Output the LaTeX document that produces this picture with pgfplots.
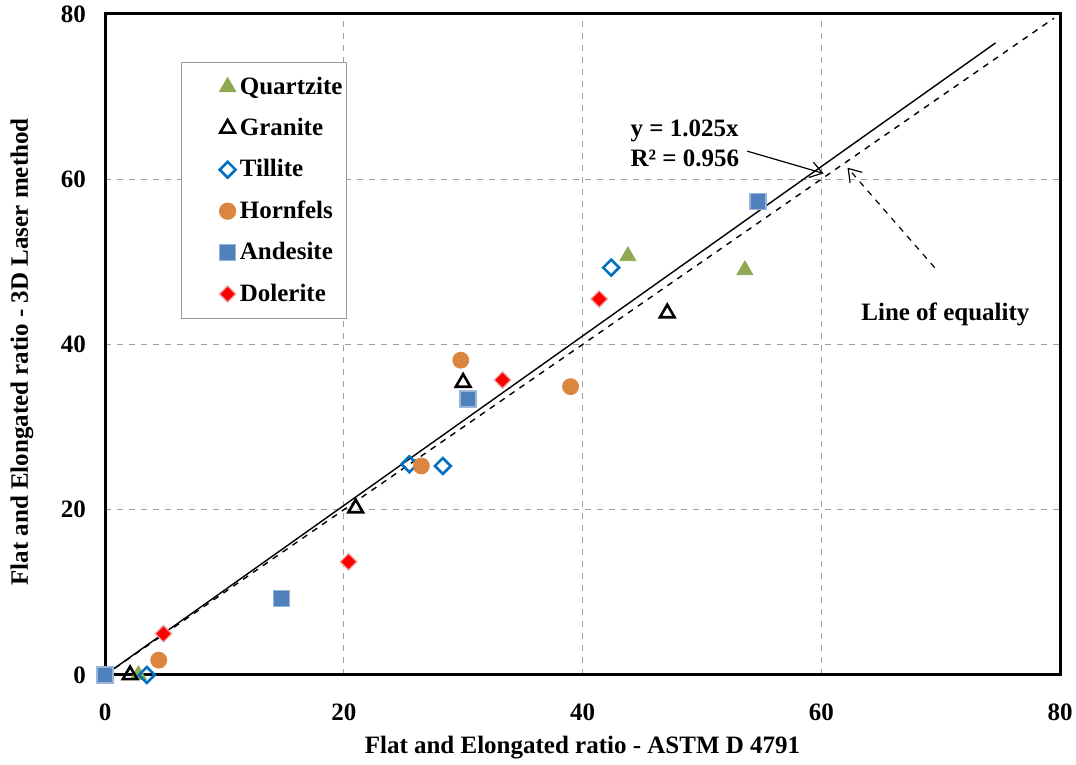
\documentclass[border=0pt]{standalone}
\usepackage{fontspec}
\setmainfont{Liberation Serif}
\usepackage{pgfplots}
\pgfplotsset{compat=1.18}
\usetikzlibrary{arrows.meta}

\definecolor{qgreen}{HTML}{8FA851}
\definecolor{tblue}{HTML}{0070C0}
\definecolor{horn}{HTML}{DA8540}
\definecolor{andes}{HTML}{4F81BD}
\definecolor{andesedge}{HTML}{9BB5D8}
\definecolor{dolred}{HTML}{FF0000}
\definecolor{doledge}{HTML}{F0A0A0}

\begin{document}
\begin{tikzpicture}
\begin{axis}[
  scale only axis,
  width=477.5pt, height=330.5pt,
  xmin=0, xmax=80, ymin=0, ymax=80,
  xtick={0,20,40,60,80}, ytick={0,20,40,60,80},
  major tick length=0pt,
  axis line style={line width=1.5pt},
  grid=major,
  major grid style={gray!75, dashed, line width=0.5pt},
  font=\bfseries\fontsize{12.5}{15}\selectfont,
  tick label style={font=\bfseries\fontsize{12.5}{15}\selectfont},
  /pgf/number format/assume math mode=true,
  xticklabel style={yshift=-11pt},
  yticklabel style={xshift=-6pt},
  xlabel={Flat and Elongated ratio - ASTM D 4791},
  ylabel={Flat and Elongated ratio - 3D Laser method},
  xlabel style={at={(axis description cs:0.5,-0.1104)}, anchor=center},
  ylabel style={at={(axis description cs:-0.0869,0.4887)}, anchor=center},
  legend style={at={(rel axis cs:0.0796,0.927)}, anchor=north west,
    draw=gray!80, line width=0.6pt, inner xsep=0pt, inner ysep=5pt,
    row sep=6.5pt, font=\bfseries\fontsize{12.5}{15}\selectfont,
    cells={anchor=west}},
  legend image code/.code={\path[draw=none, fill=none] (0pt,-0.1pt) rectangle (26pt,0.1pt);
    \draw[#1, only marks] plot coordinates {(23pt,0pt)};},
  clip=false,
]
% trend line and line of equality
\addplot[black, line width=0.7pt, forget plot] coordinates {(0,0) (74.6,76.5)};
\addplot[black, dashed, line width=0.7pt, forget plot] coordinates {(0,0) (79.5,79.5)};

\addplot[only marks, mark=triangle*, mark size=4.6pt, color=qgreen, fill=qgreen]
  coordinates {(2.8,0) (43.8,50.7) (53.6,49.0)};
\addlegendentry{Quartzite}
\addplot[only marks, mark=triangle, mark size=4.2pt, color=black, line width=1.3pt]
  coordinates {(2.1,0) (21.0,20.2) (30.0,35.4) (47.1,43.8)};
\addlegendentry{Granite}
\addplot[only marks, mark=square, mark size=2.8pt, mark options={rotate=45}, color=tblue, line width=1.3pt]
  coordinates {(3.5,0) (25.5,25.5) (28.3,25.3) (42.4,49.3)};
\addlegendentry{Tillite}
\addplot[only marks, mark=*, mark size=4pt, color=horn, fill=horn]
  coordinates {(4.5,1.8) (26.5,25.3) (29.8,38.1) (39.0,34.9)};
\addlegendentry{Hornfels}
\addplot[only marks, mark=square*, mark size=4pt, draw=andesedge, fill=andes, line width=0.6pt]
  coordinates {(0,0) (14.8,9.3) (30.4,33.4) (54.7,57.3)};
\addlegendentry{Andesite}
\addplot[only marks, mark=square*, mark size=2.9pt, mark options={rotate=45}, draw=doledge, fill=dolred, line width=0.6pt]
  coordinates {(4.9,5.0) (20.4,13.7) (33.3,35.7) (41.4,45.5)};
\addlegendentry{Dolerite}

\node[anchor=west, align=left, inner sep=0pt, font=\bfseries\fontsize{12.5}{15}\selectfont]
  at (axis cs:44.0,64.4) {y = 1.025x\\R² = 0.956};
\draw[-{Straight Barb[length=6pt,width=8pt]}, line width=0.6pt] (axis cs:53.8,63.4) -- (axis cs:60.2,60.7);
\draw[dashed, -{Straight Barb[length=6pt,width=8pt]}, line width=0.6pt] (axis cs:69.5,49.3) -- (axis cs:62.2,61.4);
\node[font=\bfseries\fontsize{12.5}{15}\selectfont] at (axis cs:70.4,43.6) {Line of equality};

\coordinate (bbl) at (rel axis cs:-0.10995,-0.13616);
\coordinate (btr) at (rel axis cs:1.01675,1.02118);
\end{axis}
\pgfresetboundingbox
\path[use as bounding box] (bbl) rectangle (btr);
\end{tikzpicture}
\end{document}
